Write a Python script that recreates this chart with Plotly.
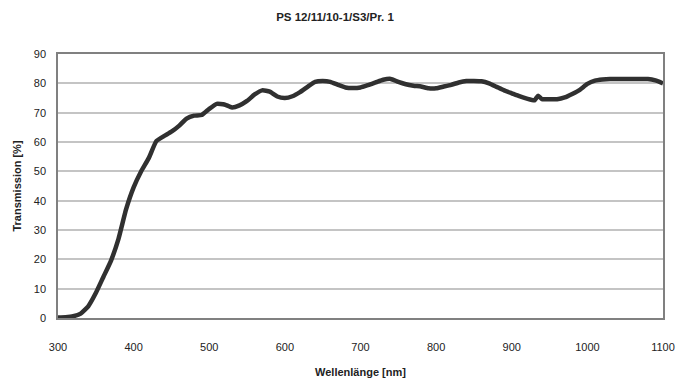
import plotly.graph_objects as go

wavelength = [300, 310, 320, 330, 340, 350, 360, 370, 380, 390, 400, 410, 420, 430, 440,
              450, 460, 470, 480, 490, 500, 510, 520, 530, 540, 550, 560, 570, 580, 590,
              600, 610, 620, 630, 640, 650, 660, 670, 680, 690, 700, 710, 720, 730, 740,
              750, 760, 770, 780, 790, 800, 810, 820, 830, 840, 850, 860, 870, 880, 890,
              900, 910, 920, 930, 935, 940, 950, 960, 970, 980, 990, 1000, 1010, 1020,
              1030, 1040, 1050, 1060, 1070, 1080, 1090, 1100]
transmission = [0.2, 0.3, 0.6, 1.5, 4.0, 8.5, 14.0, 19.5, 27.0, 37.0, 44.5, 50.0, 54.5, 60.3, 62.0,
                63.5, 65.5, 68.0, 69.0, 69.2, 71.3, 73.0, 72.8, 71.8, 72.5, 74.0, 76.2, 77.6, 77.2, 75.5,
                75.0, 75.6, 77.0, 78.8, 80.5, 80.8, 80.5, 79.5, 78.6, 78.4, 78.6, 79.4, 80.3, 81.2, 81.5,
                80.5, 79.7, 79.2, 78.9, 78.3, 78.3, 78.9, 79.5, 80.3, 80.8, 80.8, 80.7, 80.0, 78.8, 77.6,
                76.6, 75.6, 74.8, 74.2, 75.8, 74.6, 74.6, 74.6, 75.2, 76.4, 77.8, 79.8, 80.9, 81.3,
                81.5, 81.5, 81.5, 81.5, 81.5, 81.5, 81.0, 80.0]

x_ticks = [300, 400, 500, 600, 700, 800, 900, 1000, 1100]
y_ticks = [0, 10, 20, 30, 40, 50, 60, 70, 80, 90]

font_family = "Liberation Sans, Arial, sans-serif"

fig = go.Figure()
fig.add_trace(go.Scatter(
    x=wavelength, y=transmission, mode="lines",
    line=dict(color="#303030", width=4.5, shape="spline", smoothing=0.4),
    showlegend=False,
))

fig.update_layout(
    width=687, height=389,
    margin=dict(l=58, r=17, t=54, b=61),
    paper_bgcolor="white", plot_bgcolor="white",
    font=dict(family=font_family, size=11, color="#222222"),
    title=dict(text="<b>PS 12/11/10-1/S3/Pr. 1</b>", x=335 / 687, xref="container",
               xanchor="center", y=1 - 17 / 389, yref="container", yanchor="middle",
               font=dict(size=11.5, color="#222222")),
)
fig.update_xaxes(
    range=[300, 1100], tickvals=x_ticks, ticktext=[str(v) for v in x_ticks],
    showgrid=False, zeroline=False,
    showline=True, linecolor="#808080", linewidth=1.5, mirror=True,
    ticks="", ticklabelstandoff=18,
    tickfont=dict(size=11, color="#222222"),
    title=dict(text="<b>Wellenlänge [nm]</b>", standoff=16, font=dict(size=11, color="#222222")),
)
fig.update_yaxes(
    range=[0, 90], tickvals=y_ticks,
    showgrid=True, gridcolor="#c4c4c4", gridwidth=1.5, zeroline=False,
    showline=True, linecolor="#808080", linewidth=1.5, mirror=True,
    ticks="", ticklabelstandoff=8,
    tickfont=dict(size=11, color="#222222"),
    title=dict(text="<b>Transmission [%]</b>", standoff=10, font=dict(size=11, color="#222222")),
)

fig.write_html("out.html")
